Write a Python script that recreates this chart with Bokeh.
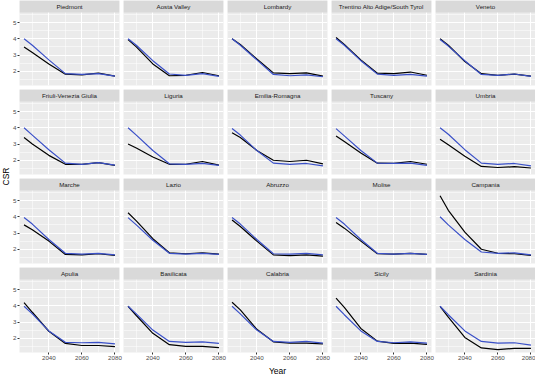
import math
from bokeh.plotting import figure
from bokeh.layouts import gridplot, row
from bokeh.models import FixedTicker, BoxAnnotation, Label, Range1d
from bokeh.embed import file_html
from bokeh.resources import INLINE

years = [2025, 2030, 2040, 2050, 2060, 2070, 2080]

regions = ["Piedmont", "Aosta Valley", "Lombardy", "Trentino Alto Adige/South Tyrol", "Veneto",
           "Friuli-Venezia Giulia", "Liguria", "Emilia-Romagna", "Tuscany", "Umbria",
           "Marche", "Lazio", "Abruzzo", "Molise", "Campania",
           "Apulia", "Basilicata", "Calabria", "Sicily", "Sardinia"]

csr_black = [
    [3.50, 3.15, 2.45, 1.82, 1.78, 1.88, 1.70],
    [3.95, 3.50, 2.45, 1.72, 1.75, 1.92, 1.72],
    [4.00, 3.65, 2.75, 1.90, 1.85, 1.90, 1.70],
    [4.08, 3.65, 2.70, 1.88, 1.85, 1.95, 1.75],
    [4.00, 3.60, 2.60, 1.85, 1.75, 1.82, 1.70],
    [3.40, 3.00, 2.30, 1.75, 1.75, 1.85, 1.68],
    [3.00, 2.75, 2.20, 1.75, 1.75, 1.92, 1.70],
    [3.70, 3.40, 2.60, 2.00, 1.92, 2.00, 1.78],
    [3.50, 3.15, 2.45, 1.82, 1.80, 1.92, 1.75],
    [3.30, 2.95, 2.25, 1.62, 1.55, 1.60, 1.52],
    [3.50, 3.20, 2.50, 1.68, 1.65, 1.72, 1.62],
    [4.25, 3.75, 2.65, 1.78, 1.72, 1.78, 1.70],
    [3.80, 3.40, 2.50, 1.65, 1.60, 1.65, 1.58],
    [3.65, 3.30, 2.50, 1.72, 1.70, 1.75, 1.68],
    [5.30, 4.40, 3.05, 2.00, 1.75, 1.72, 1.62],
    [4.20, 3.60, 2.43, 1.68, 1.55, 1.55, 1.48],
    [3.97, 3.40, 2.30, 1.60, 1.50, 1.50, 1.42],
    [4.22, 3.75, 2.55, 1.78, 1.70, 1.70, 1.65],
    [4.47, 3.90, 2.60, 1.82, 1.68, 1.70, 1.62],
    [3.97, 3.30, 2.05, 1.40, 1.30, 1.38, 1.38],
]

csr_blue = [
    [4.00, 3.60, 2.70, 1.85, 1.80, 1.85, 1.70],
    [4.00, 3.60, 2.65, 1.83, 1.75, 1.85, 1.68],
    [4.00, 3.60, 2.70, 1.80, 1.72, 1.78, 1.66],
    [4.00, 3.60, 2.65, 1.82, 1.75, 1.80, 1.70],
    [3.95, 3.55, 2.65, 1.80, 1.75, 1.83, 1.68],
    [4.00, 3.55, 2.65, 1.82, 1.75, 1.85, 1.70],
    [4.00, 3.55, 2.60, 1.78, 1.75, 1.80, 1.68],
    [3.95, 3.55, 2.60, 1.82, 1.75, 1.80, 1.65],
    [3.95, 3.50, 2.60, 1.82, 1.80, 1.82, 1.68],
    [4.00, 3.60, 2.65, 1.82, 1.75, 1.80, 1.65],
    [3.95, 3.55, 2.60, 1.75, 1.70, 1.75, 1.65],
    [3.95, 3.50, 2.55, 1.75, 1.70, 1.75, 1.68],
    [3.95, 3.55, 2.60, 1.72, 1.70, 1.75, 1.65],
    [3.95, 3.55, 2.60, 1.75, 1.70, 1.75, 1.68],
    [4.00, 3.50, 2.60, 1.83, 1.75, 1.78, 1.65],
    [3.97, 3.50, 2.45, 1.75, 1.72, 1.75, 1.65],
    [3.97, 3.50, 2.50, 1.80, 1.75, 1.78, 1.68],
    [3.97, 3.50, 2.50, 1.80, 1.75, 1.80, 1.70],
    [3.97, 3.45, 2.45, 1.80, 1.72, 1.78, 1.70],
    [3.97, 3.45, 2.45, 1.80, 1.70, 1.72, 1.58],
]

x_major = [2040, 2060, 2080]
x_minor = [2030, 2050, 2070]
y_major = [2, 3, 4, 5]
y_minor = [1.5, 2.5, 3.5, 4.5, 5.5]

FONT = "Liberation Sans"
BLUE = "#3A50C8"
X0, X1 = 2022.25, 2082.75
Y0, Y1 = 1.12, 5.62
PANEL_W, PANEL_H, STRIP_H, GAP = 100, 73, 12, 4
Y_TOP = Y1 + STRIP_H * (Y1 - Y0) / PANEL_H

figs = []
for i, name in enumerate(regions):
    r, c = divmod(i, 5)
    left = c == 0
    bottom = r == 3
    p = figure(frame_width=PANEL_W, frame_height=PANEL_H + STRIP_H,
               x_range=Range1d(X0, X1), y_range=Range1d(Y0, Y_TOP),
               toolbar_location=None, output_backend="svg",
               x_axis_location="below" if bottom else None,
               y_axis_location="left" if left else None,
               min_border_left=0, min_border_top=0,
               min_border_right=0 if c == 4 else GAP,
               min_border_bottom=0 if bottom else GAP)
    p.background_fill_color = "#EBEBEB"
    p.border_fill_color = "white"
    p.outline_line_color = None

    p.xgrid.ticker = FixedTicker(ticks=x_major, minor_ticks=x_minor)
    p.ygrid.ticker = FixedTicker(ticks=y_major, minor_ticks=y_minor)
    p.grid.grid_line_color = "white"
    p.grid.grid_line_width = 1
    p.grid.minor_grid_line_color = "white"
    p.grid.minor_grid_line_width = 0.5

    if left:
        ax = p.yaxis[0]
        ax.ticker = FixedTicker(ticks=y_major)
    if bottom:
        ax2 = p.xaxis[0]
        ax2.ticker = FixedTicker(ticks=x_major)
        if c == 2:
            ax2.axis_label = "Year"
    for a in p.axis:
        a.axis_line_color = None
        a.major_tick_line_color = "#333333"
        a.major_tick_out = 2
        a.major_tick_in = 0
        a.minor_tick_line_color = None
        a.major_label_text_font = FONT
        a.major_label_text_font_size = "6.2px"
        a.major_label_text_color = "#4D4D4D"
        a.major_label_standoff = 1
        a.axis_label_text_font = FONT
        a.axis_label_text_font_size = "8.5px"
        a.axis_label_text_font_style = "normal"
        a.axis_label_text_color = "black"
        a.axis_label_standoff = 3

    p.add_layout(BoxAnnotation(left=X0, right=X1, bottom=Y1, top=Y_TOP,
                               fill_color="#D9D9D9", fill_alpha=1, line_color=None))
    p.add_layout(Label(x=(X0 + X1) / 2, y=(Y1 + Y_TOP) / 2, text=name,
                       text_align="center", text_baseline="middle",
                       text_font=FONT, text_font_size="6.2px", text_color="#1A1A1A"))

    p.line(years, csr_black[i], line_color="black", line_width=1.2)
    p.line(years, csr_blue[i], line_color=BLUE, line_width=1.2)
    figs.append(p)

grid = gridplot(figs, ncols=5, toolbar_location=None)

total_h = 3 * (PANEL_H + STRIP_H + GAP) + PANEL_H + STRIP_H
lab = figure(width=10, height=total_h, x_range=Range1d(0, 1), y_range=Range1d(0, 1),
             toolbar_location=None, output_backend="svg",
             x_axis_location=None, y_axis_location=None, min_border=0)
lab.outline_line_color = None
lab.grid.visible = False
lab.add_layout(Label(x=0.5, y=0.5, text="CSR", angle=math.pi / 2,
                     text_align="center", text_baseline="middle",
                     text_font=FONT, text_font_size="8.5px", text_color="black"))

layout = row(lab, grid)
open("out.html", "w").write(file_html(layout, INLINE))
